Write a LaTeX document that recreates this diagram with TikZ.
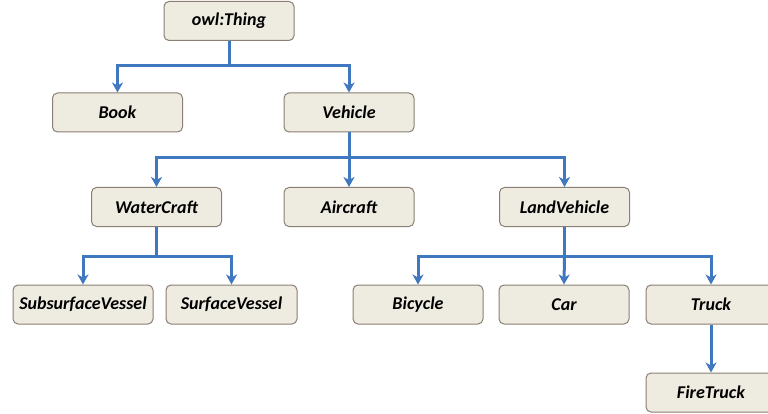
\documentclass[tikz,border=0pt]{standalone}
\usepackage{fontspec}
\setmainfont{Carlito}
\usetikzlibrary{arrows.meta}
\definecolor{boxfill}{HTML}{EEEBE0}
\definecolor{boxline}{HTML}{8A7F72}
\definecolor{conn}{HTML}{3F78BE}
\tikzset{
  cls/.style={draw=boxline, fill=boxfill, line width=1pt, rounded corners=5pt,
    minimum width=130pt, minimum height=39pt, inner sep=0pt,
    font=\fontsize{18}{20}\selectfont\bfseries\itshape},
  bar/.style={draw=conn, line width=3pt},
  link/.style={bar, -{Stealth[length=10pt,width=11pt,inset=3pt]}}
}
\begin{document}
\begin{tikzpicture}[x=1pt,y=-1pt]
\useasboundingbox (0,0) rectangle (768,414);
\node[cls] (thing) at (229,21) {owl:Thing};
\node[cls] (book) at (117.5,112.5) {Book};
\node[cls] (vehicle) at (349,112.5) {Vehicle};
\node[cls] (water) at (156.5,207) {WaterCraft};
\node[cls] (air) at (349,207) {Aircraft};
\node[cls] (land) at (564.5,207) {LandVehicle};
\node[cls, minimum width=140pt] (sub) at (83,304.5) {SubsurfaceVessel};
\node[cls, minimum width=131pt] (surf) at (231.5,304.5) {SurfaceVessel};
\node[cls] (bike) at (418,304.5) {Bicycle};
\node[cls] (car) at (564,304.5) {Car};
\node[cls] (truck) at (711,304.5) {Truck};
\node[cls] (fire) at (711,392.5) {FireTruck};
\coordinate (j1) at (229,66);
\coordinate (j2) at (349,158);
\coordinate (j3) at (156.5,256);
\coordinate (j4) at (564.5,256);
\draw[bar] (thing.south) -- (j1);
\draw[link] (j1) -| (book.north);
\draw[link] (j1) -| (vehicle.north);
\draw[bar] (vehicle.south) -- (j2);
\draw[link] (j2) -| (water.north);
\draw[link] (j2) -- (air.north);
\draw[link] (j2) -| (land.north);
\draw[bar] (water.south) -- (j3);
\draw[link] (j3) -| (sub.north);
\draw[link] (j3) -| (surf.north);
\draw[bar] (land.south) -- (j4);
\draw[link] (j4) -| (bike.north);
\draw[link] (j4) -- (car.north);
\draw[link] (j4) -| (truck.north);
\draw[link] (truck.south) -- (fire.north);
\end{tikzpicture}
\end{document}
